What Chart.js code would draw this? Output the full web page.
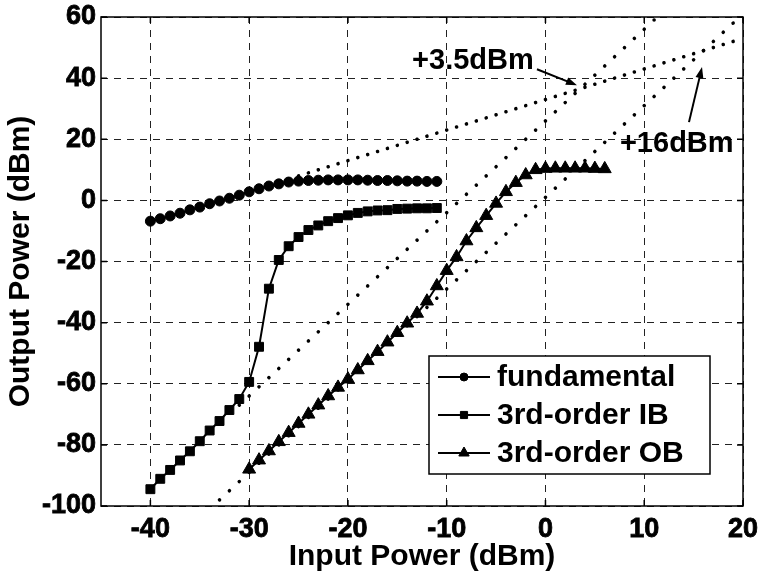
<!DOCTYPE html>
<html>
<head>
<meta charset="utf-8">
<script src="https://cdn.jsdelivr.net/npm/chart.js@4.4.0/dist/chart.umd.min.js"></script>
<style>
  html, body { margin: 0; padding: 0; background: #fff; }
</style>
</head>
<body>
<canvas id="ipChart" width="759" height="578"></canvas>
<script>
const FONT = '"Liberation Sans", Arial, Helvetica, sans-serif';

// measured curves (dBm)
const inputPower = [-40, -39, -38, -37, -36, -35, -34, -33, -32, -31, -30, -29, -28, -27, -26,
  -25, -24, -23, -22, -21, -20, -19, -18, -17, -16, -15, -14, -13, -12, -11];
const fundamental = [-6.8, -6.0, -5.1, -4.2, -3.1, -2.2, -1.1, -0.2, 0.7, 1.7, 2.8, 3.8, 4.7, 5.4, 6.0,
  6.3, 6.5, 6.6, 6.7, 6.7, 6.7, 6.7, 6.6, 6.5, 6.5, 6.4, 6.3, 6.3, 6.2, 6.2];
const thirdIB = [-94.5, -91.1, -88.2, -85.1, -82.1, -78.8, -75.3, -72.2, -68.6, -65.0, -59.4, -47.9, -28.9, -19.5, -15.0,
  -12.0, -9.7, -8.2, -6.8, -5.8, -4.9, -4.1, -3.6, -3.3, -3.2, -2.8, -2.7, -2.6, -2.6, -2.5];

const inputPowerOB = [-30, -29, -28, -27, -26, -25, -24, -23, -22, -21, -20, -19, -18, -17, -16,
  -15, -14, -13, -12, -11, -10, -9, -8, -7, -6, -5, -4, -3, -2, -1, 0, 1, 2, 3, 4, 5, 6];
const thirdOB = [-88, -85, -82, -79, -76, -73, -70, -67, -64, -61.2, -58.5, -55.5, -52.5, -49.5, -46.4,
  -43.3, -40.2, -37, -33, -28, -23, -18.5, -13.3, -9, -5, -1, 2.8, 5.8, 8.3, 10, 10.4, 10.5, 10.5, 10.5, 10.5, 10.4, 10.3];

// dotted extrapolation lines (end points)
const fundFitX = [-26, 20];
const fundFitY = [7, 53];
const ibFitX = [-31, 11];
const ibFitY = [-67, 59];
const obFitX = [-33, 19];
const obFitY = [-98, 58];

const xTicks = [-40, -30, -20, -10, 0, 10, 20];
const yTicks = [-100, -80, -60, -40, -20, 0, 20, 40, 60];
const seriesLabels = ['fundamental', '3rd-order IB', '3rd-order OB'];
const interceptLabels = ['+3.5dBm', '+16dBm'];

const toPoints = (xs, ys) => xs.map((x, i) => ({ x: x, y: ys[i] }));

// one round dot per 1 dBm of input along the fitted line
function dotDash(ctx) {
  const ds = ctx.chart.data.datasets[ctx.datasetIndex];
  const sx = ctx.chart.scales.x, sy = ctx.chart.scales.y;
  const a = ds.data[0], b = ds.data[ds.data.length - 1];
  const dx = sx.getPixelForValue(b.x) - sx.getPixelForValue(a.x);
  const dy = sy.getPixelForValue(b.y) - sy.getPixelForValue(a.y);
  const step = Math.hypot(dx, dy) / (b.x - a.x);
  return [0.001, step - 0.001];
}

function fitLine(xs, ys) {
  return {
    data: toPoints(xs, ys),
    borderColor: '#000',
    borderWidth: 3.6,
    borderCapStyle: 'round',
    borderDash: dotDash,
    pointRadius: 0,
    fill: false,
    tension: 0
  };
}

function series(label, xs, ys, style, radius) {
  return {
    label: label,
    data: toPoints(xs, ys),
    borderColor: '#000',
    backgroundColor: '#000',
    borderWidth: 2,
    pointStyle: style,
    pointRadius: radius,
    pointBorderWidth: 1,
    pointBackgroundColor: '#000',
    pointBorderColor: '#000',
    fill: false,
    tension: 0
  };
}

function arrow(ctx, x1, y1, x2, y2) {
  const ang = Math.atan2(y2 - y1, x2 - x1);
  const len = 11, half = 4;
  ctx.beginPath();
  ctx.moveTo(x1, y1);
  ctx.lineTo(x2 - Math.cos(ang) * len * 0.7, y2 - Math.sin(ang) * len * 0.7);
  ctx.stroke();
  ctx.beginPath();
  ctx.moveTo(x2, y2);
  ctx.lineTo(x2 - Math.cos(ang) * len - Math.sin(ang) * half, y2 - Math.sin(ang) * len + Math.cos(ang) * half);
  ctx.lineTo(x2 - Math.cos(ang) * len + Math.sin(ang) * half, y2 - Math.sin(ang) * len - Math.cos(ang) * half);
  ctx.closePath();
  ctx.fill();
}

// text + arrow positions, in axis units
const notes = [
  { text: interceptLabels[0], at: [-13.5, 45.6], from: [-0.86, 42.9], to: [3.19, 37.7] },
  { text: interceptLabels[1], at: [7.54, 18.5], from: [14.53, 25.6], to: [15.85, 43.6] }
];

const framePlugin = {
  id: 'frame',
  afterDatasetsDraw(chart) {
    const { ctx, chartArea: a, scales: { x, y } } = chart;
    ctx.save();

    // annotations
    ctx.fillStyle = '#000';
    ctx.strokeStyle = '#000';
    ctx.lineWidth = 2;
    ctx.font = 'bold 29px ' + FONT;
    ctx.textAlign = 'left';
    ctx.textBaseline = 'middle';
    notes.forEach(n => {
      ctx.fillText(n.text, x.getPixelForValue(n.at[0]), y.getPixelForValue(n.at[1]));
      arrow(ctx, x.getPixelForValue(n.from[0]), y.getPixelForValue(n.from[1]),
        x.getPixelForValue(n.to[0]), y.getPixelForValue(n.to[1]));
    });

    // box + inward ticks
    ctx.lineWidth = 1.5;
    ctx.strokeRect(a.left, a.top, a.right - a.left, a.bottom - a.top);
    ctx.beginPath();
    xTicks.forEach(v => {
      const px = x.getPixelForValue(v);
      ctx.moveTo(px, a.bottom); ctx.lineTo(px, a.bottom - 6);
      ctx.moveTo(px, a.top); ctx.lineTo(px, a.top + 6);
    });
    yTicks.forEach(v => {
      const py = y.getPixelForValue(v);
      ctx.moveTo(a.left, py); ctx.lineTo(a.left + 6, py);
      ctx.moveTo(a.right, py); ctx.lineTo(a.right - 6, py);
    });
    ctx.stroke();

    // legend
    const lg = { x0: 429, y0: 356, x1: 710, y1: 474, rows: [377, 415, 453], lineFrom: 438, lineTo: 490, textX: 497 };
    ctx.fillStyle = '#fff';
    ctx.fillRect(lg.x0, lg.y0, lg.x1 - lg.x0, lg.y1 - lg.y0);
    ctx.strokeStyle = '#000';
    ctx.lineWidth = 1.5;
    ctx.strokeRect(lg.x0, lg.y0, lg.x1 - lg.x0, lg.y1 - lg.y0);
    ctx.font = 'bold 30px ' + FONT;
    chart.data.datasets.slice(0, 3).forEach((ds, i) => {
      const ry = lg.rows[i];
      ctx.strokeStyle = '#000';
      ctx.lineWidth = 2;
      ctx.beginPath();
      ctx.moveTo(lg.lineFrom, ry);
      ctx.lineTo(lg.lineTo, ry);
      ctx.stroke();
      ctx.fillStyle = '#000';
      ctx.lineWidth = 1;
      Chart.helpers.drawPoint(ctx, { pointStyle: ds.pointStyle, radius: ds.pointRadius * 0.8, rotation: 0, borderWidth: 1 },
        (lg.lineFrom + lg.lineTo) / 2, ry);
      ctx.fillStyle = '#000';
      ctx.fillText(ds.label, lg.textX, ry + 1);
    });

    ctx.restore();
  }
};

// let layout.padding alone decide where the plot box sits
function noEdgePadding(s) {
  s.paddingTop = 0;
  s.paddingBottom = 0;
  s.paddingLeft = 0;
  s.paddingRight = 0;
}

new Chart(document.getElementById('ipChart'), {
  type: 'line',
  data: {
    datasets: [
      series(seriesLabels[0], inputPower, fundamental, 'circle', 5),
      series(seriesLabels[1], inputPower, thirdIB, 'rect', 6.3),
      series(seriesLabels[2], inputPowerOB, thirdOB, 'triangle', 7.5)
    ].concat([
      fitLine(fundFitX, fundFitY),
      fitLine(ibFitX, ibFitY),
      fitLine(obFitX, obFitY)
    ])
  },
  options: {
    responsive: false,
    animation: false,
    layout: { padding: { left: 0, top: 17, right: 16, bottom: 0 } },
    plugins: {
      legend: { display: false },
      tooltip: { enabled: false }
    },
    scales: {
      x: {
        type: 'linear',
        min: -45,
        max: 20,
        afterBuildTicks: s => { s.ticks = xTicks.map(v => ({ value: v })); },
        afterFit: s => { s.height = 72; noEdgePadding(s); },
        grid: { color: '#222', lineWidth: 1, drawTicks: false },
        border: { display: false, dash: [7, 6] },
        ticks: {
          color: '#000',
          padding: 7,
          maxRotation: 0,
          textStrokeColor: '#000',
          textStrokeWidth: 0.8,
          font: { family: FONT, size: 27, weight: 'bold' }
        },
        title: {
          display: true,
          text: 'Input Power (dBm)',
          color: '#000',
          padding: { top: 0, bottom: 3 },
          font: { family: FONT, size: 30, weight: 'bold' }
        }
      },
      y: {
        min: -100,
        max: 60,
        afterBuildTicks: s => { s.ticks = yTicks.map(v => ({ value: v })); },
        afterFit: s => { s.width = 101; noEdgePadding(s); },
        grid: { color: '#222', lineWidth: 1, drawTicks: false },
        border: { display: false, dash: [7, 6] },
        ticks: {
          color: '#000',
          padding: 5,
          textStrokeColor: '#000',
          textStrokeWidth: 0.8,
          font: { family: FONT, size: 27, weight: 'bold' }
        },
        title: {
          display: true,
          text: 'Output Power (dBm)',
          color: '#000',
          padding: { top: 3, bottom: 0 },
          font: { family: FONT, size: 30, weight: 'bold' }
        }
      }
    }
  },
  plugins: [framePlugin]
});
</script>
</body>
</html>
